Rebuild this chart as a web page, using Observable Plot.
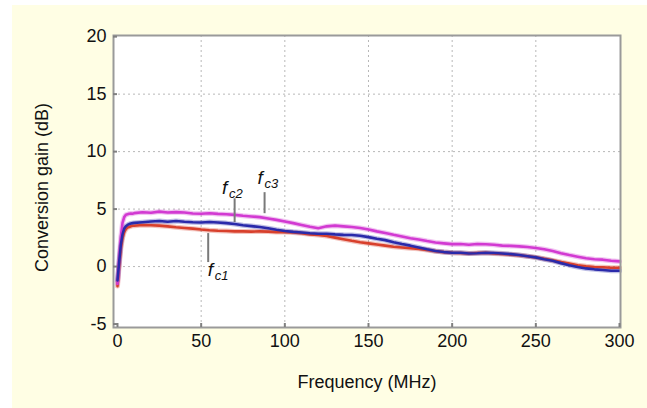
<!DOCTYPE html>
<html>
<head>
<meta charset="utf-8">
<script src="https://cdn.jsdelivr.net/npm/d3@7"></script>
<script src="https://cdn.jsdelivr.net/npm/@observablehq/plot@0.6"></script>
<style>
  html, body { margin: 0; padding: 0; background: #ffffff; }
  #panel { position: absolute; left: 12px; top: 5px; width: 635px; height: 403px; background: #fffee4; }
  #chart { position: absolute; left: 0; top: 0; }
  #chart svg { background: transparent; overflow: visible; }
</style>
</head>
<body>
<div id="panel"></div>
<div id="chart"></div>
<script>
// Frequency sample points (MHz)
const freq = [0,1,2,3,4,5,6,7,8,9,10,15,20,25,30,35,40,45,50,55,60,65,70,75,80,85,90,95,100,
  105,110,115,120,125,130,135,140,145,150,155,160,165,170,175,180,185,190,195,200,
  205,210,215,220,225,230,235,240,245,250,255,260,265,270,275,280,285,290,295,300];

// Conversion gain (dB) for each carrier frequency
const gainFc1 = [-1.7,0.1,1.6,2.5,3.0,3.25,3.4,3.45,3.5,3.55,3.55,3.62,3.6,3.56,3.5,3.42,3.36,3.3,3.22,3.16,3.12,3.1,3.06,3.06,3.04,3.06,3.04,3.0,3.0,
  2.96,2.9,2.8,2.74,2.66,2.52,2.38,2.24,2.12,2.02,1.92,1.82,1.72,1.66,1.6,1.54,1.44,1.34,1.26,1.2,
  1.18,1.14,1.18,1.2,1.14,1.1,1.04,0.98,0.9,0.8,0.68,0.54,0.4,0.26,0.12,0.02,-0.04,-0.06,-0.1,-0.1];
const gainFc2 = [-1.2,0.4,1.9,2.8,3.3,3.5,3.62,3.7,3.75,3.78,3.8,3.86,3.92,3.96,3.9,3.96,3.9,3.86,3.84,3.88,3.84,3.78,3.7,3.6,3.52,3.44,3.34,3.2,3.1,
  3.02,2.96,2.9,2.86,2.86,2.8,2.76,2.74,2.68,2.56,2.42,2.3,2.12,1.96,1.82,1.66,1.5,1.36,1.26,1.2,
  1.2,1.14,1.16,1.2,1.18,1.14,1.08,1.0,0.9,0.8,0.64,0.5,0.3,0.12,-0.04,-0.16,-0.24,-0.3,-0.36,-0.36];
const gainFc3 = [-1.5,0.6,2.6,3.8,4.3,4.5,4.55,4.6,4.62,4.6,4.65,4.72,4.68,4.78,4.7,4.74,4.7,4.62,4.6,4.64,4.58,4.55,4.5,4.42,4.36,4.3,4.18,4.06,3.92,
  3.78,3.62,3.46,3.34,3.5,3.56,3.5,3.44,3.36,3.22,3.06,2.92,2.76,2.62,2.46,2.36,2.22,2.1,2.02,1.95,
  1.96,1.9,1.96,1.94,1.9,1.82,1.8,1.76,1.7,1.62,1.5,1.36,1.16,1.0,0.86,0.72,0.64,0.6,0.5,0.45];

// Series (drawing order) and colours
const seriesNames = ["c1", "c3", "c2"];
const seriesColors = ["#d8402c", "#d23ad2", "#2a2aaa"];
const seriesValues = { c1: gainFc1, c2: gainFc2, c3: gainFc3 };

// Axis ticks
const xTicks = [0, 50, 100, 150, 200, 250, 300];
const yTicks = [-5, 0, 5, 10, 15, 20];

// Curve labels (f with subscript) and their leader lines
const labelNames = ["c1", "c2", "c3"];
const labelX = [54, 62.5, 83.7];
const labelY = [-0.8, 6.35, 7.2];
const leaderX = [54.2, 70, 87.9];
const leaderTop = [2.87, 5.9, 6.43];
const leaderBottom = [0.35, 3.83, 4.6];

const rows = seriesNames.flatMap((s, k) =>
  freq.map((f, i) => ({ series: s, order: k, f, g: seriesValues[s][i] })));
const labels = labelNames.map((s, i) => ({ s, x: labelX[i], y: labelY[i] }));
const leaders = labelNames.map((s, i) => ({ x: leaderX[i], y1: leaderTop[i], y2: leaderBottom[i] }));

const font = "'Liberation Sans', Arial, sans-serif";
const plain = (d) => String(d);

const chart = Plot.plot({
  width: 647,
  height: 408,
  marginLeft: 113,
  marginRight: 27,
  marginTop: 35,
  marginBottom: 81,
  style: { fontFamily: font, fontSize: "18px", color: "#111", background: "transparent" },
  x: { domain: [-2.39, 300.6], ticks: xTicks },
  y: { domain: [-5.3, 20.1], ticks: yTicks },
  color: { domain: seriesNames, range: seriesColors },
  marks: [
    Plot.frame({ fill: "#ffffff", stroke: null }),
    Plot.gridX(xTicks.slice(1, -1), { stroke: "#b8b8b8", strokeOpacity: 1, strokeDasharray: "2,3" }),
    Plot.gridY(yTicks.slice(1, -1), { stroke: "#b8b8b8", strokeOpacity: 1, strokeDasharray: "2,3" }),
    // soft halo under each trace
    Plot.line(rows, { x: "f", y: "g", z: "series", stroke: "series", strokeWidth: 5, strokeOpacity: 0.3 }),
    Plot.line(rows, { x: "f", y: "g", z: "series", stroke: "series", strokeWidth: 2.6 }),
    Plot.frame({ stroke: "#9a9a9a", strokeWidth: 2 }),
    // inward tick marks
    Plot.axisY(yTicks, { tickSize: -4, stroke: "#808080", strokeWidth: 2, tickFormat: () => "" }),
    Plot.axisX(xTicks, { tickSize: -4, stroke: "#808080", strokeWidth: 2, tickFormat: () => "" }),
    Plot.axisY(yTicks, { tickSize: 0, tickPadding: 7, label: null, fill: "#111", fontSize: 18, tickFormat: plain }),
    Plot.axisX(xTicks, { tickSize: 0, tickPadding: 7, label: null, fill: "#111", fontSize: 18, tickFormat: plain }),
    Plot.text(["Conversion gain (dB)"], { frameAnchor: "left", textAnchor: "middle", lineAnchor: "middle", rotate: -90, dx: -71, dy: 6, fontSize: 18, fill: "#111" }),
    Plot.text(["Frequency (MHz)"], { frameAnchor: "bottom", textAnchor: "middle", lineAnchor: "middle", dy: 55, fontSize: 18, fill: "#111" }),
    // leader lines and labels
    Plot.ruleX(leaders, { x: "x", y1: "y1", y2: "y2", stroke: "#7a7a7a", strokeWidth: 2 }),
    Plot.text(labels, { x: "x", y: "y", text: () => "f", textAnchor: "start", lineAnchor: "bottom", fontStyle: "italic", fontSize: 19, fill: "#111" }),
    Plot.text(labels, { x: "x", y: "y", text: "s", textAnchor: "start", lineAnchor: "bottom", dx: 7, dy: 4, fontStyle: "italic", fontSize: 13, fill: "#111" })
  ]
});

document.getElementById("chart").appendChild(chart);
</script>
</body>
</html>
